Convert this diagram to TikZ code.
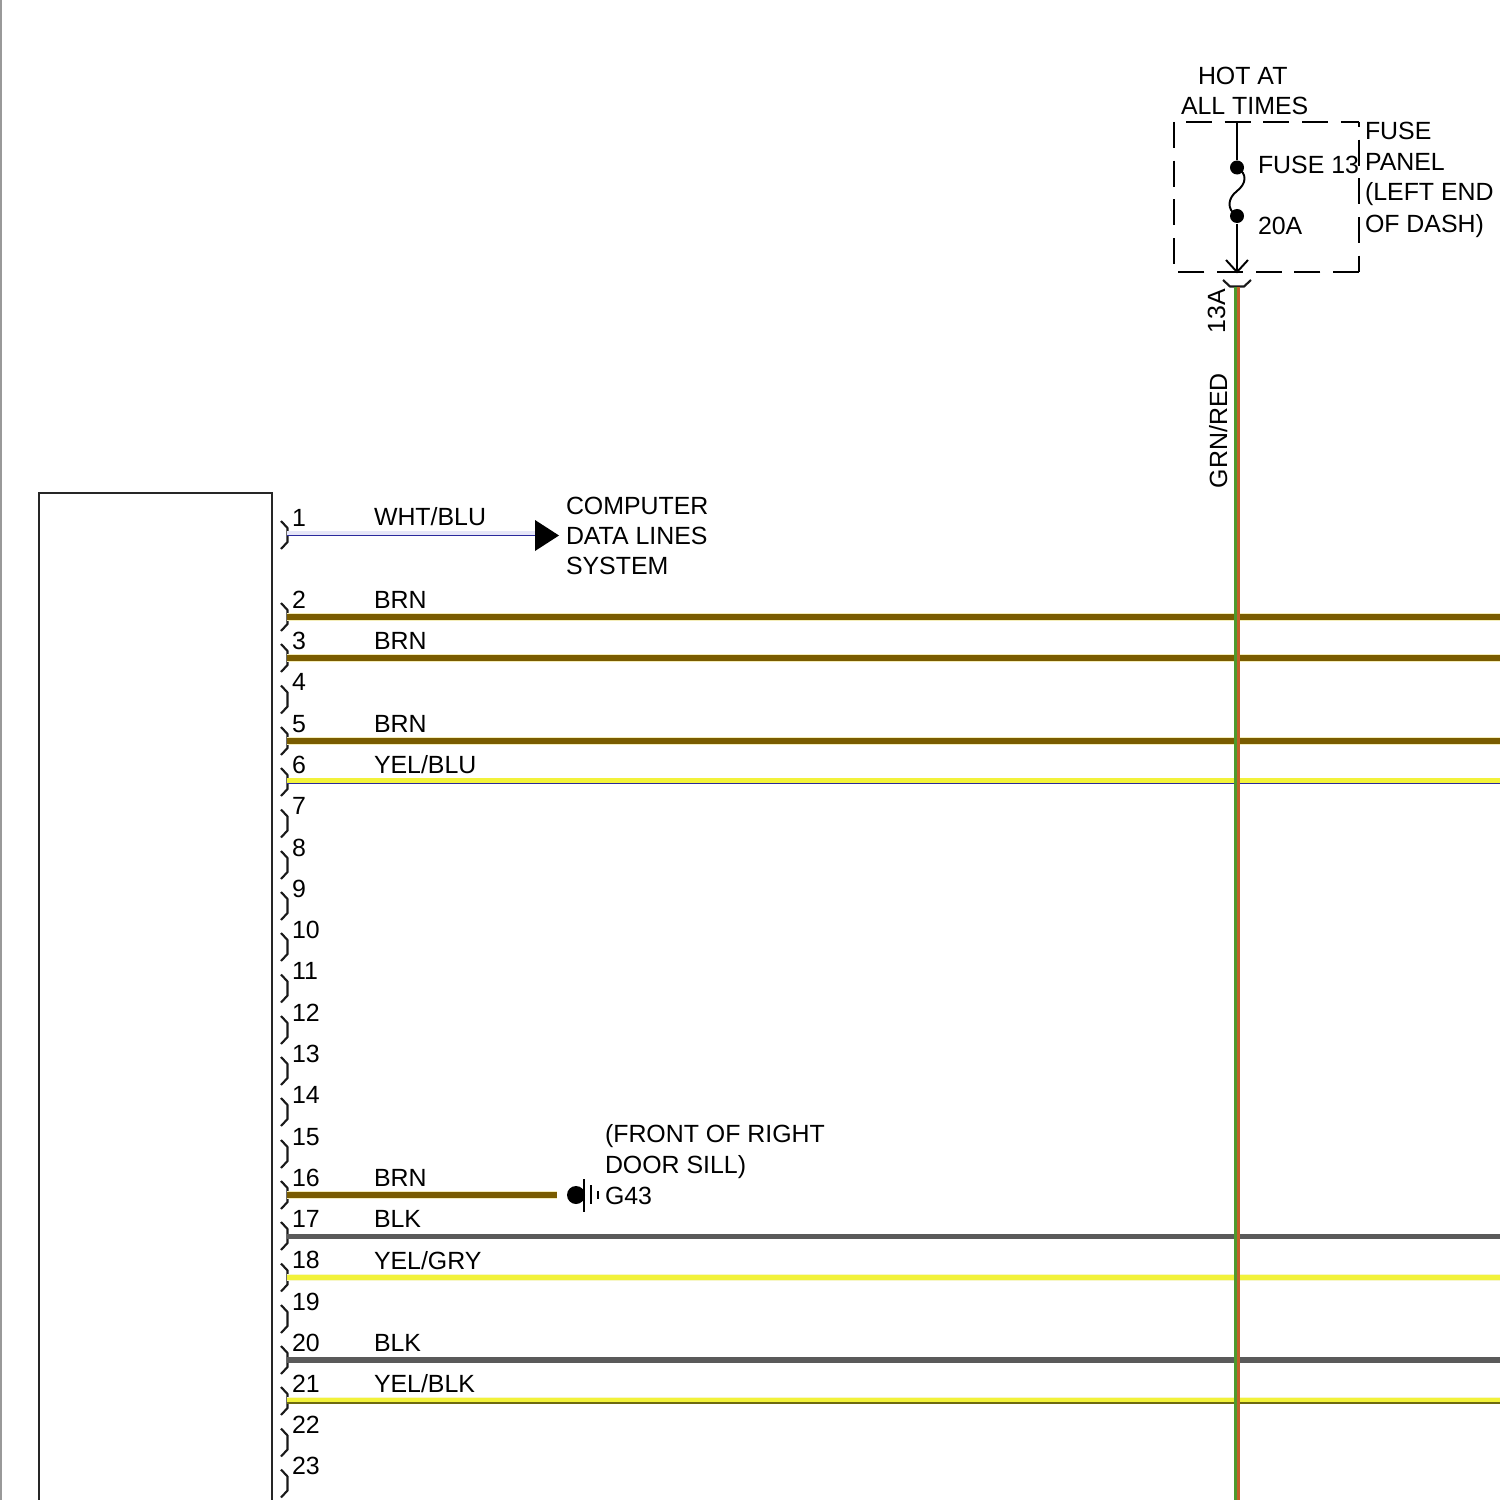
\documentclass[tikz,border=0pt]{standalone}
\usepackage{fontspec}
\setmainfont{Liberation Sans}
\definecolor{brn}{HTML}{7A5C00}
\definecolor{brnhalo}{HTML}{F4EDB8}
\definecolor{blk}{HTML}{5A5A5A}
\definecolor{yel}{HTML}{F2F23A}
\definecolor{yelhalo}{HTML}{F7F7C8}
\definecolor{blu}{HTML}{2A2A9C}
\definecolor{bluhalo}{HTML}{E6E6F8}
\definecolor{olv}{HTML}{6E6A10}
\definecolor{grn}{HTML}{4E9A2C}
\definecolor{redw}{HTML}{C0602A}
\tikzset{
  lbl/.style={inner sep=0pt,outer sep=0pt,anchor=base west,text=black,font=\fontsize{7.08pt}{8pt}\selectfont},
  lblup/.style={lbl,rotate=90},
  blackline/.style={draw=black,line width=.55pt},
  panel/.style={draw=black,line width=.55pt,dash pattern=on 7.4pt off 3.6pt},
  halo/.style={line width=2.2pt},
  wirefat/.style={line width=1.6pt},
  wirethin/.style={line width=.5pt},
  pinbracket/.style={draw=black!90,line width=.6pt},
  dot/.style={circle,fill=black,inner sep=0pt,minimum size=#1},
}
\begin{document}
\begin{tikzpicture}[x=0.01cm,y=-0.01cm]
\clip (0,0) rectangle (1500,1500);
\fill[white] (0,0) rectangle (1500,1500);
\fill[black!40] (0,0) rectangle (2,1500);

% module box
\coordinate (boxbl) at (39,1510);
\coordinate (boxtl) at (39,493);
\coordinate (boxtr) at (272,493);
\coordinate (boxbr) at (272,1510);
\draw[draw=black!85,line width=.6pt] (boxbl) -- (boxtl) -- (boxtr) -- (boxbr);

% pins: brackets and numbers
\foreach \n/\y in {1/535,2/617,3/658,4/699.5,5/741,6/782,7/823.5,8/865,9/906,10/947,11/988.5,12/1030,13/1071,14/1112,15/1154,16/1195,17/1236,18/1277.5,19/1319,20/1360,21/1401,22/1442.5,23/1483.5}{
  \draw[pinbracket] (281,\y-14) -- (287.5,\y-7) -- (287.5,\y+7) -- (281,\y+14);
  \node[lbl] (pin\n) at (292,\y-9) {\n};
}

% wire ends
\foreach \n/\y in {2/617,3/658,5/741,6/780.5,17/1236.5,18/1277.5,20/1360,21/1400.5}{
  \coordinate (a\n) at (287,\y);
  \coordinate (b\n) at (1500,\y);
}
\coordinate (a1) at (287,535.5);
\coordinate (arrowtail) at (536,535.5);
\coordinate (a16) at (287,1195);
\coordinate (b16) at (557,1195);
\coordinate (a6b) at (287,783.5);
\coordinate (b6b) at (1500,783.5);
\coordinate (a21b) at (287,1403);
\coordinate (b21b) at (1500,1403);

% wires
\draw[draw=bluhalo,line width=1.4pt] ([yshift=.6pt]a1) -- ([yshift=.6pt]arrowtail);
\draw[draw=blu,wirethin] (a1) -- (arrowtail);
\foreach \n in {2,3,5,16}{
  \draw[draw=brnhalo,halo] (a\n) -- (b\n);
  \draw[draw=brn,wirefat] (a\n) -- (b\n);
}
\foreach \n in {17,20}{
  \draw[draw=blk,wirefat] (a\n) -- (b\n);
}
\foreach \n in {18,21}{
  \draw[draw=yelhalo,halo] (a\n) -- (b\n);
  \draw[draw=yel,wirefat] (a\n) -- (b\n);
}
\draw[draw=yel,line width=1.2pt] (a6) -- (b6);
\draw[draw=blu,wirethin] (a6b) -- (b6b);
\draw[draw=olv,wirethin] (a21b) -- (b21b);

% arrow head to computer data lines
\fill[black] (535,520) -- (559,535.5) -- (535,551) -- cycle;

% ground G43
\node[dot=18*0.2845pt] (gnd) at (576,1195) {};
\draw[blackline] (584,1179) -- (584,1212);
\draw[blackline] (591,1185) -- (591,1204);
\draw[blackline] (598,1191) -- (598,1199);

% fuse panel
\coordinate (ptl) at (1174,122);
\coordinate (ptr) at (1359,122);
\coordinate (pbr) at (1359,272);
\coordinate (pbl) at (1174,272);
\draw[panel] (1186,122) -- (ptr);
\draw[panel,dash phase=5.97pt] (ptr) -- (pbr);
\draw[panel] (pbr) -- (1178,272);
\draw[panel] (ptl) -- (1174,265);
\coordinate (fusetop) at (1237,122);
\node[dot=14*0.2845pt] (fusea) at (1237,167.5) {};
\node[dot=14*0.2845pt] (fuseb) at (1237,216) {};
\coordinate (fusetip) at (1237,272);
\draw[blackline] (fusetop) -- (fusea);
\draw[blackline] (fusea.center) .. controls (1248,174) and (1246,184) .. (1237,191) .. controls (1228,198) and (1226,209) .. (fuseb.center);
\draw[blackline] (fuseb) -- (fusetip);
\draw[blackline] (1226,260) -- (fusetip) -- (1248,260);
\draw[pinbracket] (1223,280) -- (1230,286.5) -- (1244,286.5) -- (1251,280);

% vertical wire
\coordinate (vt) at (1235.8,287);
\coordinate (vb) at (1235.8,1500);
\draw[draw=grn,line width=1.05pt] (vt) -- (vb);
\draw[draw=redw,line width=.7pt] ([xshift=.8pt]vt) -- ([xshift=.8pt]vb);

% wire colour labels
\node[lbl] (w1) at (374,525.5) {WHT/BLU};
\node[lbl] (w2) at (374,608) {BRN};
\node[lbl] (w3) at (374,649) {BRN};
\node[lbl] (w5) at (374,732) {BRN};
\node[lbl] (w6) at (374,773) {YEL/BLU};
\node[lbl] (w16) at (374,1186) {BRN};
\node[lbl] (w17) at (374,1227.5) {BLK};
\node[lbl] (w18) at (374,1269) {YEL/GRY};
\node[lbl] (w20) at (374,1351) {BLK};
\node[lbl] (w21) at (374,1392) {YEL/BLK};

% texts
\node[lbl] (cd1) at (566,514) {COMPUTER};
\node[lbl] (cd2) at (566,544) {DATA LINES};
\node[lbl] (cd3) at (566,574) {SYSTEM};
\node[lbl] (fd1) at (605,1142) {(FRONT OF RIGHT};
\node[lbl] (fd2) at (605,1173) {DOOR SILL)};
\node[lbl] (g43) at (605,1204) {G43};
\node[lbl] (hot1) at (1198,84.5) {HOT AT};
\node[lbl] (hot2) at (1181,115) {ALL TIMES};
\node[lbl] (f13) at (1258,173) {FUSE 13};
\node[lbl] (f20) at (1258,234.5) {20A};
\node[lbl] (fp1) at (1365,139.5) {FUSE};
\node[lbl] (fp2) at (1365,170) {PANEL};
\node[lbl] (fp3) at (1365,201) {(LEFT END};
\node[lbl] (fp4) at (1365,232) {OF DASH)};
\node[lblup] (c13a) at (1225,333) {13A};
\node[lblup] (grnred) at (1227,488) {GRN/RED};
\end{tikzpicture}
\end{document}
